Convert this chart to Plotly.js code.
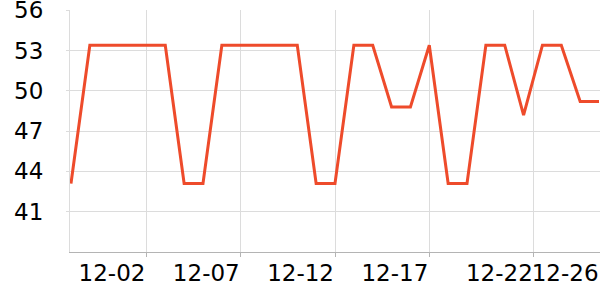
<!DOCTYPE html>
<html>
<head>
<meta charset="utf-8">
<script src="https://cdn.plot.ly/plotly-3.0.1.min.js"></script>
<style>html,body{margin:0;padding:0;background:#fff;}#chart{width:600px;height:300px;}</style>
</head>
<body>
<div id="chart"></div>
<script>
const dates = ['2023-11-28','2023-11-29','2023-11-30','2023-12-01','2023-12-02','2023-12-03','2023-12-04','2023-12-05','2023-12-06','2023-12-07','2023-12-08','2023-12-09','2023-12-10','2023-12-11','2023-12-12','2023-12-13','2023-12-14','2023-12-15','2023-12-16','2023-12-17','2023-12-18','2023-12-19','2023-12-20','2023-12-21','2023-12-22','2023-12-23','2023-12-24','2023-12-25','2023-12-26'];
const values = [43.1,53.4,53.4,53.4,53.4,53.4,43.1,43.1,53.4,53.4,53.4,53.4,53.4,43.1,43.1,53.4,53.4,48.8,48.8,53.4,43.1,43.1,53.4,53.4,48.2,53.4,53.4,49.2,49.2];
const yTicks = [41,44,47,50,53,56];
const xTickVals = ['2023-12-02','2023-12-07','2023-12-12','2023-12-17','2023-12-22 13:00'];
const xTickText = ['12-02','12-07','12-12','12-17','12-22'];
const endTickVals = ['2023-12-26'];
const endTickText = ['12-26'];

const xRange = ['2023-11-27 22:45','2023-12-26 01:15'];
const font = {family:'DejaVu Sans', size:23, color:'#000'};

Plotly.newPlot('chart', [{
  x: dates, y: values, type:'scatter', mode:'lines',
  line:{color:'#ee4b2b', width:3}, hoverinfo:'skip'
},{
  x: [dates[dates.length-1]], y: [values[values.length-1]], xaxis:'x2', yaxis:'y',
  type:'scatter', mode:'markers', marker:{opacity:0, size:1}, hoverinfo:'skip'
}], {
  width:600, height:300,
  margin:{l:70, r:0, t:10, b:48},
  paper_bgcolor:'#fff', plot_bgcolor:'#fff',
  showlegend:false,
  xaxis:{
    type:'date', range:xRange, tickmode:'array', tickvals:xTickVals, ticktext:xTickText,
    ticklabelposition:'outside left',
    showgrid:true, gridcolor:'#dcdcdc', gridwidth:1,
    showline:true, linecolor:'#b4b4b4', linewidth:1,
    ticks:'outside', ticklen:4, tickcolor:'#b4b4b4',
    tickfont:font, zeroline:false, fixedrange:true
  },
  xaxis2:{
    type:'date', range:xRange, overlaying:'x', anchor:'y', side:'bottom',
    tickmode:'array', tickvals:endTickVals, ticktext:endTickText,
    ticklabelposition:'outside left', ticklabeloverflow:'allow',
    showgrid:false, showline:false,
    ticks:'outside', ticklen:4, tickcolor:'rgba(0,0,0,0)',
    tickfont:font, zeroline:false, fixedrange:true
  },
  yaxis:{
    range:[38,56.02], tickmode:'array', tickvals:yTicks,
    showgrid:true, gridcolor:'#dcdcdc', gridwidth:1,
    showline:true, linecolor:'#dcdcdc', linewidth:1,
    ticks:'outside', ticklen:3, tickcolor:'#dcdcdc',
    ticklabelstandoff:18, ticklabeloverflow:'allow',
    tickfont:font, zeroline:false, fixedrange:true
  }
}, {displayModeBar:false, staticPlot:true});
</script>
</body>
</html>
